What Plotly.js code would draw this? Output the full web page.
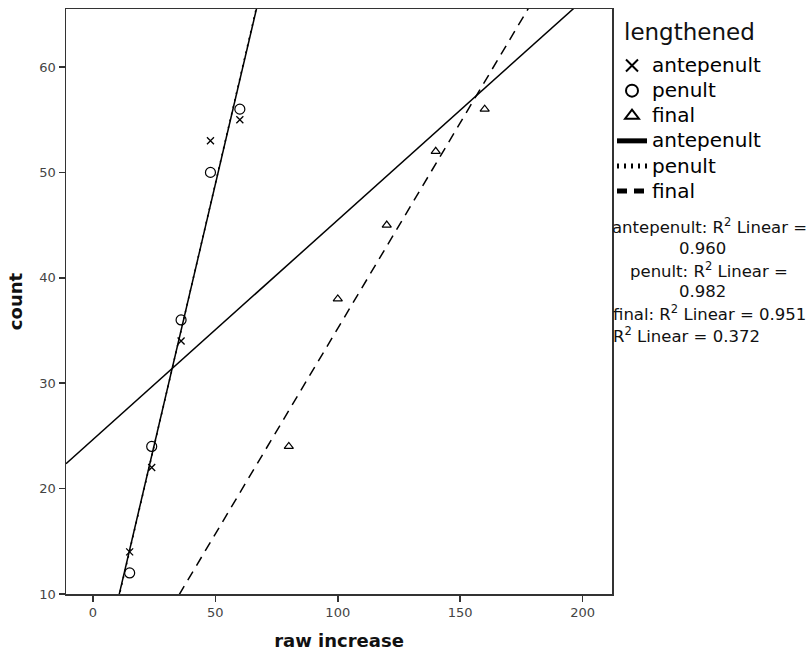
<!DOCTYPE html>
<html>
<head>
<meta charset="utf-8">
<script src="https://cdn.plot.ly/plotly-3.0.1.min.js"></script>
<style>
html,body{margin:0;padding:0;background:#fff;}
#chart{width:810px;height:654px;}
#chart .legend .legendtext{font-size:20px !important;}
#chart .legend .scrollbox{clip-path:none !important;}
</style>
</head>
<body>
<div id="chart"></div>
<script>
// Data
const groups = ["antepenult", "penult", "final"];
const anteX = [15, 24, 36, 48, 60];
const anteY = [14, 22, 34, 53, 55];
const penX = [15, 24, 36, 48, 60];
const penY = [12, 24, 36, 50, 56];
const finX = [80, 100, 120, 140, 160];
const finY = [24, 38, 45, 52, 56];
const r2Labels = ["0.960", "0.982", "0.951", "0.372"];
const legendTitle = "lengthened";
const xRange = [-11, 212];
const yRange = [10, 65.5];
const xTicks = [0, 50, 100, 150, 200];
const yTicks = [10, 20, 30, 40, 50, 60];

function fit(xs, ys) {
  const n = xs.length;
  const mx = xs.reduce((a, b) => a + b, 0) / n;
  const my = ys.reduce((a, b) => a + b, 0) / n;
  let sxy = 0, sxx = 0;
  for (let i = 0; i < n; i++) { sxy += (xs[i] - mx) * (ys[i] - my); sxx += (xs[i] - mx) ** 2; }
  const b = sxy / sxx, a = my - b * mx;
  return { x: xRange.slice(), y: xRange.map(v => a + b * v) };
}

const black = '#000';
const lw = 1.5;
const traces = [
  { x: anteX, y: anteY, name: groups[0], mode: 'markers', type: 'scatter',
    marker: { symbol: 'x-thin-open', size: 7, color: black, line: { width: 1.3, color: black } } },
  { x: penX, y: penY, name: groups[1], mode: 'markers', type: 'scatter',
    marker: { symbol: 'circle-open', size: 10, color: black, line: { width: 1.2, color: black } } },
  { x: finX, y: finY, name: groups[2], mode: 'markers', type: 'scatter',
    marker: { symbol: 'triangle-up-open', size: 8, color: black, line: { width: 1.2, color: black } } }
];
const fa = fit(anteX, anteY), fp = fit(penX, penY), ff = fit(finX, finY);
const allX = anteX.concat(penX, finX), allY = anteY.concat(penY, finY);
const fo = fit(allX, allY);
traces.push({ x: fa.x, y: fa.y, name: groups[0], mode: 'lines', type: 'scatter', line: { color: black, width: lw } });
traces.push({ x: fp.x, y: fp.y, name: groups[1], mode: 'lines', type: 'scatter', line: { color: black, width: lw, dash: '2px,5px' } });
traces.push({ x: ff.x, y: ff.y, name: groups[2], mode: 'lines', type: 'scatter', line: { color: black, width: lw, dash: '10px,7px' } });
traces.push({ x: fo.x, y: fo.y, name: 'total', mode: 'lines', type: 'scatter', showlegend: false, line: { color: black, width: lw } });

const L = 66, R = 612, T = 9, B = 594;
const px = v => (v - L) / (R - L);
const py = v => (B - v) / (B - T);
const annFont = { family: 'DejaVu Sans, sans-serif', size: 16.5, color: '#111' };
const ann = (text, x, y, anchor, font) => ({ text, x: px(x), y: py(y), xref: 'paper', yref: 'paper', showarrow: false,
  xanchor: anchor, yanchor: 'middle', font: font || annFont });

const layout = {
  width: 810, height: 654,
  margin: { l: L, r: 810 - R, t: T, b: 654 - B, pad: 0 },
  paper_bgcolor: '#fff', plot_bgcolor: '#fff',
  font: { family: 'DejaVu Sans, sans-serif', color: '#000' },
  showlegend: true,
  legend: {
    x: 1.0, xanchor: 'left', y: py(48), yanchor: 'top',
    font: { size: 17, color: '#000' },
    itemsizing: 'constant', tracegroupgap: 0,
    bgcolor: 'rgba(0,0,0,0)', borderwidth: 0
  },
  xaxis: {
    range: xRange, tickvals: xTicks, ticktext: xTicks.map(String),
    showgrid: false, zeroline: false, showline: true, mirror: true,
    linecolor: '#333', linewidth: 1.5, ticks: 'outside', ticklen: 6, tickwidth: 1.5, tickcolor: '#333',
    tickfont: { size: 13, color: '#444' },
    title: { text: '<b>raw increase</b>', font: { size: 18, color: '#111' }, standoff: 15 }
  },
  yaxis: {
    range: yRange, tickvals: yTicks, ticktext: yTicks.map(String),
    showgrid: false, zeroline: false, showline: true, mirror: true,
    linecolor: '#333', linewidth: 1.5, ticks: 'outside', ticklen: 6, tickwidth: 1.5, tickcolor: '#333',
    tickfont: { size: 13, color: '#444' },
    title: { text: '<b>count</b>', font: { size: 18, color: '#111' }, standoff: 12 }
  },
  annotations: [
    ann(legendTitle, 622, 32, 'left', { family: 'DejaVu Sans, sans-serif', size: 23, color: '#111' }),
    ann('antepenult: R<sup>2</sup> Linear =', 709, 226, 'center'),
    ann(r2Labels[0], 702, 248, 'center'),
    ann('penult: R<sup>2</sup> Linear =', 709, 270, 'center'),
    ann(r2Labels[1], 702, 292, 'center'),
    ann('final: R<sup>2</sup> Linear = ' + r2Labels[2], 611, 313, 'left'),
    ann('R<sup>2</sup> Linear = ' + r2Labels[3], 611, 335, 'left')
  ]
};

Plotly.newPlot('chart', traces, layout, { displayModeBar: false, staticPlot: true });
</script>
</body>
</html>
